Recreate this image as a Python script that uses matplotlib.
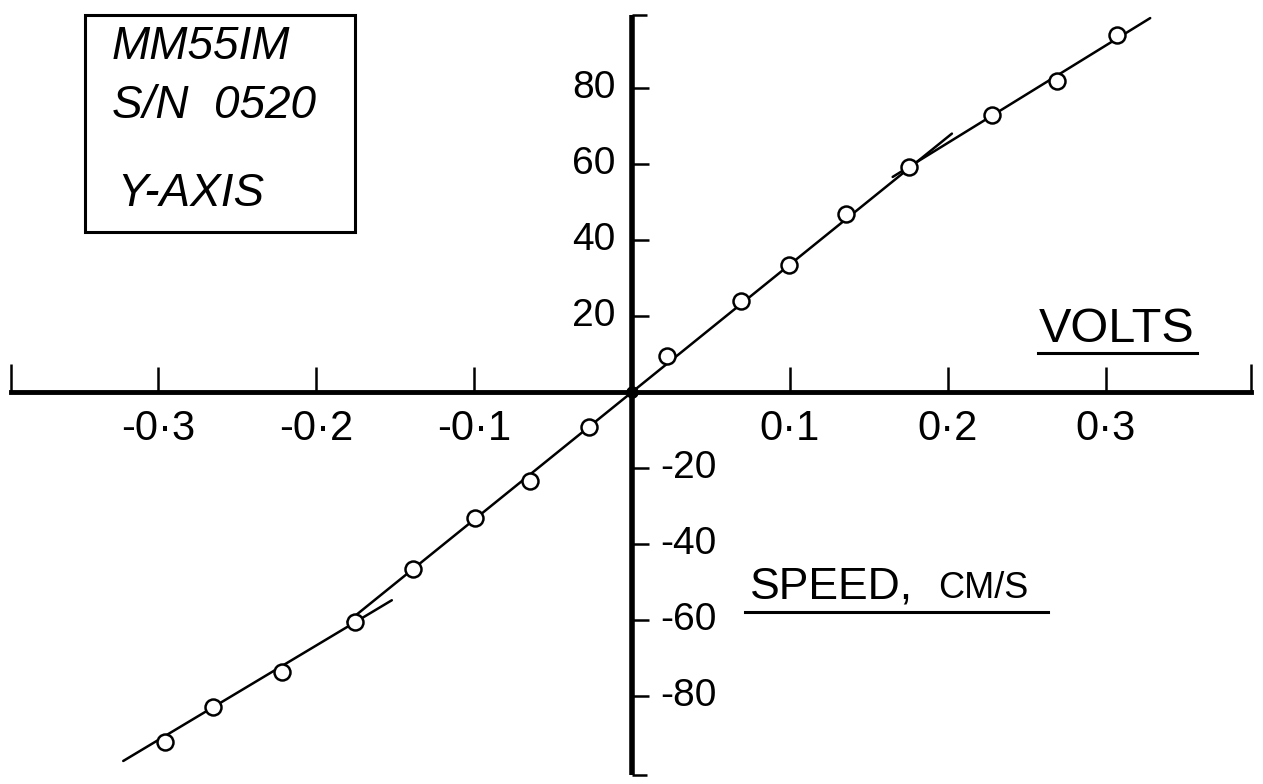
import matplotlib
matplotlib.use("Agg")
import matplotlib.pyplot as plt
from matplotlib.patches import Rectangle
from matplotlib.lines import Line2D

# ---- data ----
speed = [-0.2956, -0.265, -0.2215, -0.175, -0.1386, -0.0994, -0.0646, -0.0272,
         0.0222, 0.069, 0.0994, 0.1354, 0.1753, 0.2278, 0.269, 0.307]
volts = [-92.1, -82.9, -73.7, -60.5, -46.6, -33.2, -23.4, -9.2,
         9.5, 23.9, 33.4, 46.8, 59.2, 72.9, 81.8, 93.9]
origin_x = [0.0]
origin_y = [0.0]

fit_inner_x = [-0.18, 0.2025]
fit_inner_y = [-60.5, 68.0]
fit_upper_x = [0.165, 0.328]
fit_upper_y = [56.6, 98.4]
fit_lower_x = [-0.322, -0.152]
fit_lower_y = [-97.1, -54.8]

xticks = [-0.3, -0.2, -0.1, 0.1, 0.2, 0.3]
xticklabels = ["-0·3", "-0·2", "-0·1", "0·1", "0·2", "0·3"]
yticks = [-80, -60, -40, -20, 20, 40, 60, 80]
yticklabels = ["-80", "-60", "-40", "-20", "20", "40", "60", "80"]
x_ends = [-0.393, 0.392]
y_ends = [99.2, -100.8]

W, H = 1263, 784
fig = plt.figure(figsize=(W / 100, H / 100), dpi=100)
ax = fig.add_axes([0, 0, 1, 1])
ax.set_xlim(-0.4, 0.3994)
ax.set_ylim(-103.16, 103.16)

def fx(px):
    return px / W

def fy(py):
    return 1 - py / H

# axes spines through origin
for s in ["top", "right"]:
    ax.spines[s].set_visible(False)
ax.spines["left"].set_position(("data", 0))
ax.spines["bottom"].set_position(("data", 0))
ax.spines["left"].set_linewidth(4.0)
ax.spines["bottom"].set_linewidth(3.5)
ax.spines["left"].set_bounds(y_ends[1], y_ends[0])
ax.spines["bottom"].set_bounds(x_ends[0], x_ends[1])
ax.spines["left"].set_capstyle("butt")

ax.set_xticks(xticks)
ax.set_xticks(x_ends, minor=True)
ax.set_yticks(yticks)
ax.set_yticks(y_ends, minor=True)
ax.tick_params(axis="x", which="major", direction="in", length=18, width=1.8,
               labelbottom=False)
ax.tick_params(axis="x", which="minor", direction="in", length=20, width=1.8)
ax.tick_params(axis="y", which="major", direction="in", length=12, width=1.8,
               labelleft=False)
ax.tick_params(axis="y", which="minor", direction="in", length=11, width=1.8)

sans = ["Liberation Sans", "DejaVu Sans"]
for v, lab in zip(xticks, xticklabels):
    ax.text(v, -9.8, lab, ha="center", va="center", fontsize=30,
            family=sans)
for v, lab in zip(yticks, yticklabels):
    if v > 0:
        ax.text(-0.0105, v, lab, ha="right", va="center", fontsize=28,
                family=sans)
    else:
        ax.text(0.018, v, lab, ha="left", va="center", fontsize=28,
                family=sans)

# fitted lines
for lx, ly in [(fit_inner_x, fit_inner_y), (fit_upper_x, fit_upper_y),
               (fit_lower_x, fit_lower_y)]:
    ax.plot(lx, ly, color="black", lw=1.8, solid_capstyle="round", zorder=3)

# data points
ax.plot(speed, volts, linestyle="none", marker="o", markersize=11.5,
        markerfacecolor="white", markeredgecolor="black", markeredgewidth=1.8,
        zorder=4)
ax.plot(origin_x, origin_y, linestyle="none", marker="o", markersize=8,
        color="black", zorder=5)

# identification box
fig.patches.append(Rectangle((fx(85), fy(232)), fx(355) - fx(85), fy(15) - fy(232),
                             transform=fig.transFigure, fill=False,
                             edgecolor="black", linewidth=2.2))
fig.text(fx(112), fy(47), "MM55IM", ha="left", va="center", fontsize=33,
         style="italic", family=sans)
fig.text(fx(112), fy(106), "S/N  0520", ha="left", va="center", fontsize=33,
         style="italic", family=sans)
fig.text(fx(117), fy(194), "Y-AXIS", ha="left", va="center", fontsize=33,
         style="italic", family=sans)

# axis titles with underlines
fig.text(fx(1117), fy(330), "VOLTS", ha="center", va="center", fontsize=35,
         family=sans)
fig.add_artist(Line2D([fx(1038), fx(1197)], [fy(353), fy(353)],
                      transform=fig.transFigure, color="black", lw=2.2))
fig.text(fx(750), fy(598), "SPEED,", ha="left", va="baseline", fontsize=32,
         family=sans)
fig.text(fx(938), fy(598), "CM/S", ha="left", va="baseline", fontsize=26,
         family=sans)
fig.add_artist(Line2D([fx(745), fx(1048)], [fy(612), fy(612)],
                      transform=fig.transFigure, color="black", lw=2.2))

fig.savefig("out.png", dpi=100, facecolor="white")
